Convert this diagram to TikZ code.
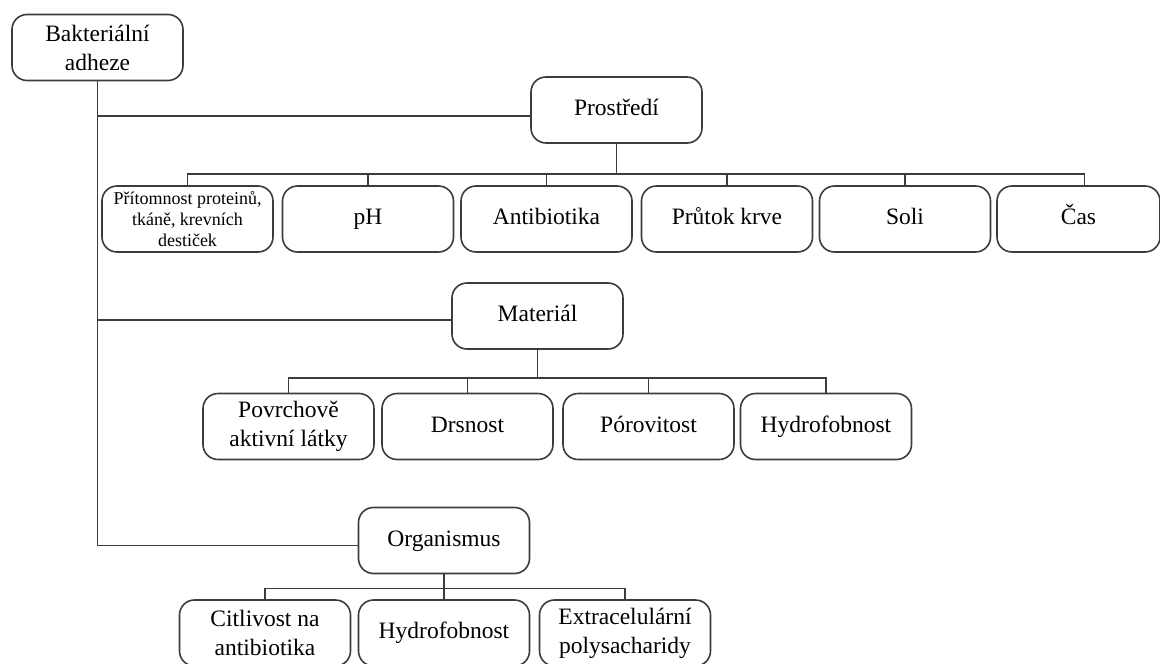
\documentclass[tikz,border=0pt]{standalone}
\usepackage{fontspec}
\setmainfont{Liberation Serif}
\usetikzlibrary{positioning}
\definecolor{LineGray}{HTML}{3C3C3C}

\begin{document}
\begin{tikzpicture}[x=1pt,y=-1pt,
  box/.style={draw=LineGray,line width=1.6pt,rounded corners=15pt,minimum width=171pt,
    minimum height=66pt,align=center,inner sep=1pt,font=\fontsize{23.5}{29}\selectfont},
  oneline/.style={text height=16pt,text depth=5pt},
  twoline/.style={},
  small/.style={font=\fontsize{18}{21}\selectfont},
  link/.style={draw=LineGray,line width=1.6pt}]
  \useasboundingbox (0,0) rectangle (1160,664);

  \node[box] (adheze) at (97.5,47.5) {Bakteriální\\adheze};
  \node[box,oneline] (prostredi) at (616.5,110) {Prostředí};
  \node[box,oneline] (material) at (537.5,316) {Materiál};
  \node[box,oneline] (organismus) at (444,540.5) {Organismus};

  % prostredi
  \node[box,small] (pritomnost) at (187.5,219) {Přítomnost proteinů,\\tkáně, krevních\\destiček};
  \foreach \n/\x/\txt in {ph/368/pH,antibiotika/546.5/Antibiotika,prutok/727/Průtok krve,soli/905/Soli}
    \node[box,oneline] (\n) at (\x,219) {\txt};
  \node[box,oneline,minimum width=163pt] (cas) at (1078.5,219) {Čas};

  % material
  \foreach \n/\x/\s/\txt in {povrchove/288.5/twoline/Povrchově\\aktivní látky,drsnost/467.5/oneline/Drsnost,
      porovitost/648.5/oneline/Pórovitost,hydrofobnostm/826/oneline/Hydrofobnost}
    \node[box,\s] (\n) at (\x,426.5) {\txt};

  % organismus
  \foreach \n/\x/\s/\txt in {citlivost/265/twoline/Citlivost na\\antibiotika,hydrofobnosto/444/oneline/Hydrofobnost,
      extracel/625/twoline/Extracelulární\\polysacharidy}
    \node[box,\s] (\n) at (\x,633) {\txt};

  \draw[link] (adheze.south) |- ([yshift=-6pt]prostredi.west);
  \draw[link] (adheze.south) |- ([yshift=-4pt]material.west);
  \draw[link] (adheze.south) |- ([yshift=-5pt]organismus.west);

  \foreach \n in {pritomnost,ph,antibiotika,prutok,soli}
    \draw[link] (prostredi.south) -- ++(0,30) -| (\n.north);
  \draw[link] (prostredi.south) -- ++(0,30) -| ([xshift=6pt]cas.north);

  \foreach \n in {povrchove,drsnost,porovitost,hydrofobnostm}
    \draw[link] (material.south) -- ++(0,28) -| (\n.north);

  \foreach \n in {citlivost,hydrofobnosto,extracel}
    \draw[link] (organismus.south) -- ++(0,14) -| (\n.north);
\end{tikzpicture}
\end{document}
